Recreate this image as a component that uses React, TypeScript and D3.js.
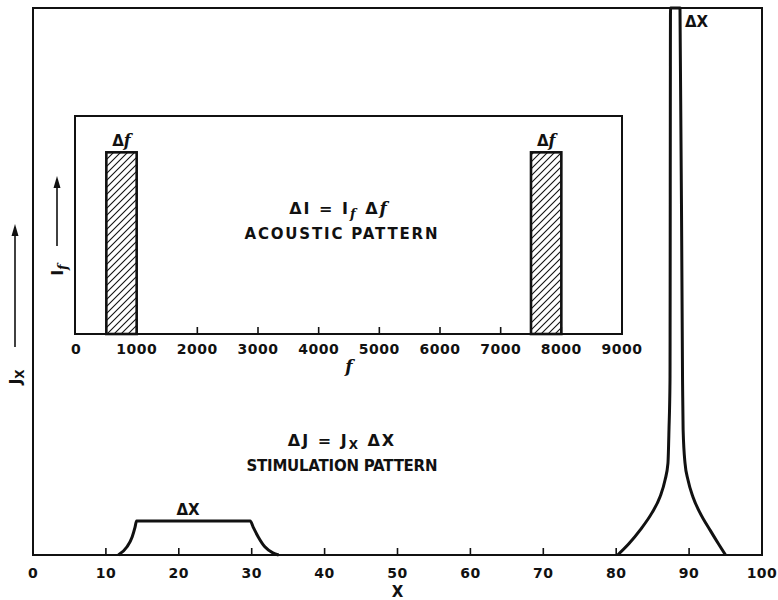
import React from 'react';
import * as d3 from 'd3';

// main axis: position x along the membrane
const xTicks = [0, 10, 20, 30, 40, 50, 60, 70, 80, 90, 100];
// inset axis: frequency f
const fTicks = [0, 1000, 2000, 3000, 4000, 5000, 6000, 7000, 8000, 9000];

// acoustic pattern, two narrow bands
const bandStart = [500, 7500];
const bandEnd = [1000, 8000];
const bandLevel = [1, 1];

// stimulation pattern, low-frequency region (broad) and high-frequency region (sharp)
const lowX = [11.7, 12.9, 13.6, 14.0, 14.2, 29.8, 30.2, 30.9, 31.8, 32.9, 33.7];
const lowJ = [0, 1.5, 3.3, 5.1, 6.2, 6.2, 5.1, 3.3, 1.5, 0.4, 0];
const highX = [80.2, 81.7, 83.3, 84.9, 86.0, 86.7, 87.1, 87.24, 87.38, 87.45, 88.75, 89.1, 89.18, 89.44, 89.85, 90.53, 91.5, 92.9, 94.0, 95.0];
const highJ = [0, 2.0, 4.6, 7.7, 10.6, 13.7, 16.8, 22.9, 32, 100, 100, 32, 22.9, 16.8, 13.7, 10.6, 7.7, 4.5, 2.1, 0];

const font = "'DejaVu Sans', sans-serif";
const ink = '#111';

const App = () => {
  const width = 778;
  const height = 600;

  const x = d3.scaleLinear().domain([0, 100]).range([33, 762]);
  const y = d3.scaleLinear().domain([0, 100]).range([555, 8]);

  const f = d3.scaleLinear().domain([0, 9000]).range([76, 622]);
  const lvl = d3.scaleLinear().domain([0, 1.2]).range([334, 116]);

  const line = d3.line<[number, number]>()
    .x(d => x(d[0]))
    .y(d => y(d[1]))
    .curve(d3.curveMonotoneX);

  const lowPts = lowX.map((v, i) => [v, lowJ[i]] as [number, number]);
  const highPts = highX.map((v, i) => [v, highJ[i]] as [number, number]);

  const sub = (t: string) => (
    <tspan fontSize={12} dy={3}>{t}</tspan>
  );
  const italF = (size: number, dy = 0) => (
    <tspan fontFamily="'DejaVu Serif', serif" fontStyle="italic" fontSize={size} dy={dy}>f</tspan>
  );

  return (
    <svg width={width} height={height} style={{ position: 'absolute', left: 0, top: 0 }}
      fontFamily={font} fontWeight="bold" fill={ink}>
      <defs>
        <pattern id="hatch" patternUnits="userSpaceOnUse" width={7} height={7}>
          <path d="M0,7 L7,0 M-2,2 L2,-2 M5,9 L9,5" stroke={ink} strokeWidth={1.1} />
        </pattern>
      </defs>
      <rect width={width} height={height} fill="#fff" />

      {/* main frame */}
      <rect x={x(0)} y={y(100)} width={x(100) - x(0)} height={y(0) - y(100)}
        fill="none" stroke={ink} strokeWidth={2} />

      {/* main ticks */}
      {xTicks.slice(1, -1).map(t => (
        <line key={t} x1={x(t)} x2={x(t)} y1={y(0)} y2={y(0) - 7} stroke={ink} strokeWidth={1.6} />
      ))}
      {xTicks.map(t => (
        <text key={t} x={x(t)} y={y(0) + 23} textAnchor="middle" fontSize={14} letterSpacing={0.5}>{t}</text>
      ))}
      <text x={x(50)} y={597} textAnchor="middle" fontSize={15}>X</text>

      {/* y label + arrow */}
      <line x1={15} x2={15} y1={347} y2={232} stroke={ink} strokeWidth={1.6} />
      <path d="M15,224 L11.5,236 L18.5,236 Z" fill={ink} />
      <text transform="translate(21,377) rotate(-90)" textAnchor="middle" fontSize={16}>
        J{sub('X')}
      </text>

      {/* stimulation curves */}
      <path d={line(lowPts) ?? ''} fill="none" stroke={ink} strokeWidth={3} strokeLinejoin="round" />
      <path d={line(highPts) ?? ''} fill="none" stroke={ink} strokeWidth={3} strokeLinejoin="round" />
      <text x={188} y={515} textAnchor="middle" fontSize={15}>ΔX</text>
      <text x={685} y={27} fontSize={15}>ΔX</text>

      <text x={342} y={446} textAnchor="middle" fontSize={16} letterSpacing={2}>
        ΔJ = J{sub('X')}<tspan dy={-3}> ΔX</tspan>
      </text>
      <text x={342} y={471} textAnchor="middle" fontSize={15} textLength={191} lengthAdjust="spacing">
        STIMULATION PATTERN
      </text>

      {/* inset */}
      <rect x={f(0) - 1} y={lvl(1.2)} width={f(9000) - f(0) + 1} height={lvl(0) - lvl(1.2)}
        fill="#fff" stroke={ink} strokeWidth={2} />
      {fTicks.slice(1).map(t => (
        <line key={t} x1={f(t)} x2={f(t)} y1={lvl(0)} y2={lvl(0) - 7} stroke={ink} strokeWidth={1.6} />
      ))}
      {bandStart.map((s, i) => (
        <rect key={s} x={f(s)} y={lvl(bandLevel[i])} width={f(bandEnd[i]) - f(s)}
          height={lvl(0) - lvl(bandLevel[i])} fill="url(#hatch)" stroke={ink} strokeWidth={2.6} />
      ))}
      {bandStart.map((s, i) => (
        <text key={s} x={(f(s) + f(bandEnd[i])) / 2} y={lvl(bandLevel[i]) - 6} textAnchor="middle" fontSize={15}>
          Δ{italF(16)}
        </text>
      ))}
      {fTicks.map(t => (
        <text key={t} x={f(t)} y={lvl(0) + 20} textAnchor="middle" fontSize={14} letterSpacing={0.5}>{t}</text>
      ))}
      <text x={f(4500)} y={372} textAnchor="middle" fontSize={16}>{italF(17)}</text>

      <line x1={57} x2={57} y1={246} y2={184} stroke={ink} strokeWidth={1.6} />
      <path d="M57,176 L53.5,188 L60.5,188 Z" fill={ink} />
      <text transform="translate(63,270) rotate(-90)" textAnchor="middle" fontSize={15}>
        I{italF(13, 4)}
      </text>

      <text x={339} y={214} textAnchor="middle" fontSize={16} letterSpacing={2}>
        ΔI = I{italF(13, 4)}<tspan dy={-4}> Δ</tspan>{italF(17)}
      </text>
      <text x={341} y={239} textAnchor="middle" fontSize={15} textLength={193} lengthAdjust="spacing">
        ACOUSTIC PATTERN
      </text>
    </svg>
  );
};

export default App;
